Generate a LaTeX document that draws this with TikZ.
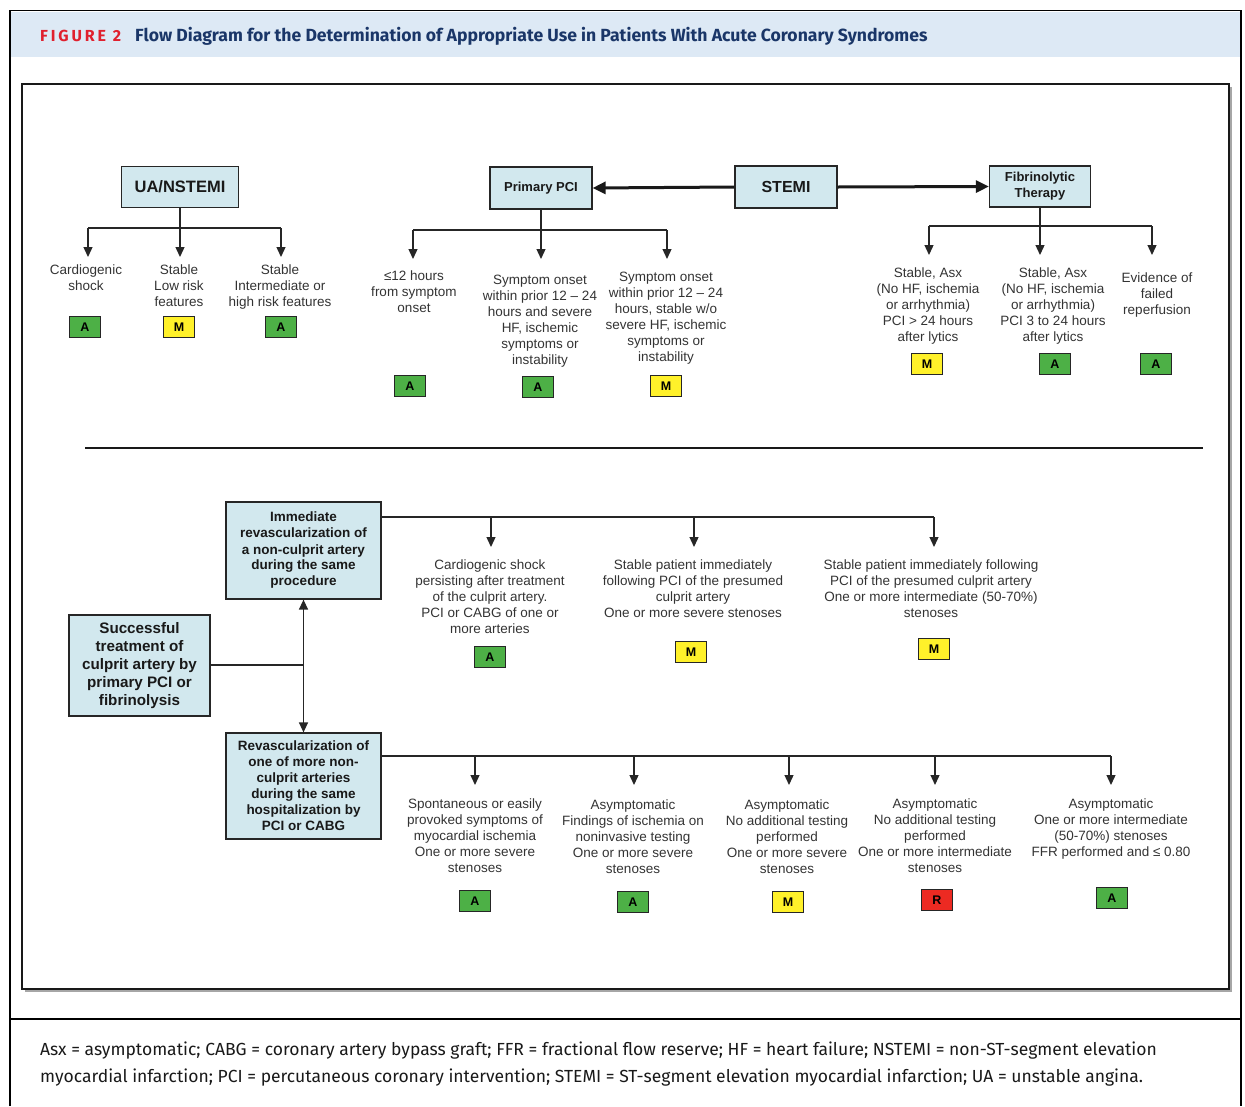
\documentclass[tikz,border=0pt]{standalone}
\usepackage{fontspec}
\setmainfont{Liberation Sans}
\newfontfamily\hdrfont{Fira Sans}
\usetikzlibrary{arrows.meta}
\definecolor{hdrblue}{HTML}{DDE9F5}
\definecolor{figred}{HTML}{E0202E}
\definecolor{titleblue}{HTML}{1A3668}
\definecolor{boxfill}{HTML}{D2E8EE}
\definecolor{rgreen}{HTML}{4DB046}
\definecolor{ryellow}{HTML}{FFF12A}
\definecolor{rred}{HTML}{EC2A22}
\definecolor{txt}{HTML}{333333}
\tikzset{
  cbox/.style={draw=black!85, fill=boxfill, line width=1.2pt, align=center, inner sep=0pt, text=black!90},
  desc/.style={align=center, inner sep=0pt, anchor=north, text=txt, font=\fontsize{13.5}{16}\selectfont},
  rating/.style={draw=black!85, line width=1.1pt, minimum width=31pt, minimum height=21pt, inner sep=0pt, font=\fontsize{12.5}{14}\selectfont\bfseries},
  ga/.style={rating, fill=rgreen},
  ym/.style={rating, fill=ryellow},
  rr/.style={rating, fill=rred},
  conn/.style={line width=1.3pt, draw=black!85},
  arr/.style={conn, -{Triangle[width=9pt,length=10pt]}},
  bigarr/.style={line width=3pt, draw=black!90, -{Triangle[width=12pt,length=13pt]}},
}
\begin{document}
\begin{tikzpicture}[x=1pt,y=-1pt]
\useasboundingbox (0,0) rectangle (1245,1106);
% outer frame and header
\fill[hdrblue] (10,12) rectangle (1241,57);
\draw[line width=1.5pt] (10,1106) -- (10,10.5) -- (1241,10.5) -- (1241,1106);
\draw[line width=2pt] (10,1019) -- (1241,1019);
\node[anchor=base west, inner sep=0pt, text=figred, font=\hdrfont\fontsize{16}{18}\selectfont\bfseries\addfontfeatures{LetterSpace=18}] (fig) at (40,41) {FIGURE 2};
\node[anchor=base west, inner sep=0pt, text=titleblue, font=\hdrfont\fontsize{17.6}{20}\selectfont\bfseries] (title) at (135,41) {Flow Diagram for the Determination of Appropriate Use in Patients With Acute Coronary Syndromes};
% inner frame
\draw[line width=2pt, black!35] (25,991) -- (1231,991) -- (1231,87);
\draw[line width=2pt, black!90] (22,84) rectangle (1229,989);
% legend
\node[anchor=north west, inner sep=0pt, align=left, text=black!90, font=\hdrfont\fontsize{17.5}{27}\selectfont] (legend) at (40,1042) {Asx = asymptomatic; CABG = coronary artery bypass graft; FFR = fractional flow reserve; HF = heart failure; NSTEMI = non-ST-segment elevation\\myocardial infarction; PCI = percutaneous coronary intervention; STEMI = ST-segment elevation myocardial infarction; UA = unstable angina.};

% ===== top section =====
\node[cbox, minimum width=117pt, minimum height=41pt, font=\fontsize{16.5}{17}\selectfont\bfseries] (ua) at (180,187) {UA/NSTEMI};
\node[cbox, minimum width=102pt, minimum height=42pt, font=\fontsize{13}{16}\selectfont\bfseries] (ppci) at (541,188) {Primary PCI};
\node[cbox, minimum width=102pt, minimum height=42pt, font=\fontsize{16}{17}\selectfont\bfseries] (stemi) at (786,187) {STEMI};
\node[cbox, minimum width=101pt, minimum height=41pt, font=\fontsize{13}{16}\selectfont\bfseries] (fib) at (1040,186.5) {Fibrinolytic\\Therapy};
\draw[bigarr] (stemi.west) -- (ppci.east);
\draw[bigarr] (stemi.east) -- (fib.west);

% UA branches
\coordinate (uab) at (180,228);
\coordinate (uab1) at (88,228);
\coordinate (uab3) at (281,228);
\coordinate (uat1) at (88,257);
\coordinate (uat2) at (180,257);
\coordinate (uat3) at (281,257);
\draw[conn] (ua.south) -- (uab);
\draw[conn] (uab1) -- (uab3);
\draw[arr] (uab1) -- (uat1);
\draw[arr] (uab) -- (uat2);
\draw[arr] (uab3) -- (uat3);
\node[desc] (u1) at (86,265) {Cardiogenic\\shock};
\node[desc] (u2) at (179,265) {Stable\\Low risk\\features};
\node[desc] (u3) at (280,265) {Stable\\Intermediate or\\high risk features};
\node[ga] (ru1) at (85,327) {A};
\node[ym] (ru2) at (179,327) {M};
\node[ga] (ru3) at (281,327) {A};

% PCI branches
\coordinate (pb) at (541,230);
\coordinate (pb1) at (413,230);
\coordinate (pb3) at (667,230);
\coordinate (pt1) at (413,259);
\coordinate (pt2) at (541,259);
\coordinate (pt3) at (667,259);
\draw[conn] (ppci.south) -- (pb);
\draw[conn] (pb1) -- (pb3);
\draw[arr] (pb1) -- (pt1);
\draw[arr] (pb) -- (pt2);
\draw[arr] (pb3) -- (pt3);
\node[desc] (p1) at (414,271) {≤12 hours\\from symptom\\onset};
\node[desc] (p2) at (540,275) {Symptom onset\\within prior 12 – 24\\hours and severe\\HF, ischemic\\symptoms or\\instability};
\node[desc] (p3) at (666,272) {Symptom onset\\within prior 12 – 24\\hours, stable w/o\\severe HF, ischemic\\symptoms or\\instability};
\node[ga] (rp1) at (410,386) {A};
\node[ga] (rp2) at (538,387) {A};
\node[ym] (rp3) at (666,386) {M};

% Fibrinolytic branches
\coordinate (fb) at (1040,226);
\coordinate (fb1) at (929,226);
\coordinate (fb3) at (1152,226);
\coordinate (ft1) at (929,255);
\coordinate (ft2) at (1040,255);
\coordinate (ft3) at (1152,255);
\draw[conn] (fib.south) -- (fb);
\draw[conn] (fb1) -- (fb3);
\draw[arr] (fb1) -- (ft1);
\draw[arr] (fb) -- (ft2);
\draw[arr] (fb3) -- (ft3);
\node[desc] (f1) at (928,268) {Stable, Asx\\(No HF, ischemia\\or arrhythmia)\\PCI > 24 hours\\after lytics};
\node[desc] (f2) at (1053,268) {Stable, Asx\\(No HF, ischemia\\or arrhythmia)\\PCI 3 to 24 hours\\after lytics};
\node[desc] (f3) at (1157,273) {Evidence of\\failed\\reperfusion};
\node[ym] (rf1) at (927,364) {M};
\node[ga] (rf2) at (1055,364) {A};
\node[ga] (rf3) at (1156,364) {A};

% separator
\coordinate (sepa) at (85,448);
\coordinate (sepb) at (1203,448);
\draw[line width=2.5pt, black!90] (sepa) -- (sepb);

% ===== bottom section =====
\node[cbox, minimum width=141pt, minimum height=101pt, font=\fontsize{15.2}{18}\selectfont\bfseries] (succ) at (139.5,665.5) {Successful\\treatment of\\culprit artery by\\primary PCI or\\fibrinolysis};
\node[cbox, minimum width=155pt, minimum height=97pt, font=\fontsize{13.5}{16}\selectfont\bfseries] (imm) at (303.5,550.5) {Immediate\\revascularization of\\a non-culprit artery\\during the same\\procedure};
\node[cbox, minimum width=155pt, minimum height=106pt, font=\fontsize{13.5}{16}\selectfont\bfseries] (rev) at (303.5,786) {Revascularization of\\one of more non-\\culprit arteries\\during the same\\hospitalization by\\PCI or CABG};
\coordinate (sj) at (303.5,665);
\draw[conn] (succ.east |- sj) -- (sj);
\draw[arr] (sj) -- (imm.south);
\draw[arr] (sj) -- (rev.north);

% Immediate branches
\coordinate (ib0) at (381,517);
\coordinate (ib1) at (491,517);
\coordinate (ib2) at (694,517);
\coordinate (ib3) at (934,517);
\coordinate (it1) at (491,547);
\coordinate (it2) at (694,547);
\coordinate (it3) at (934,547);
\draw[conn] (imm.east |- ib0) -- (ib3);
\draw[arr] (ib1) -- (it1);
\draw[arr] (ib2) -- (it2);
\draw[arr] (ib3) -- (it3);
\node[desc] (i1) at (490,560) {Cardiogenic shock\\persisting after treatment\\of the culprit artery.\\PCI or CABG of one or\\more arteries};
\node[desc] (i2) at (693,560) {Stable patient immediately\\following PCI of the presumed\\culprit artery\\One or more severe stenoses};
\node[desc] (i3) at (931,560) {Stable patient immediately following\\PCI of the presumed culprit artery\\One or more intermediate (50-70\%)\\stenoses};
\node[ga] (ri1) at (490,657) {A};
\node[ym] (ri2) at (691,652) {M};
\node[ym] (ri3) at (934,649) {M};

% Revascularization branches
\coordinate (rb0) at (381,756);
\coordinate (rb1) at (475,756);
\coordinate (rb2) at (634,756);
\coordinate (rb3) at (789,756);
\coordinate (rb4) at (935,756);
\coordinate (rb5) at (1111,756);
\coordinate (rt1) at (475,785);
\coordinate (rt2) at (634,785);
\coordinate (rt3) at (789,785);
\coordinate (rt4) at (935,785);
\coordinate (rt5) at (1111,785);
\draw[conn] (rev.east |- rb0) -- (rb5);
\draw[arr] (rb1) -- (rt1);
\draw[arr] (rb2) -- (rt2);
\draw[arr] (rb3) -- (rt3);
\draw[arr] (rb4) -- (rt4);
\draw[arr] (rb5) -- (rt5);
\node[desc] (v1) at (475,799) {Spontaneous or easily\\provoked symptoms of\\myocardial ischemia\\One or more severe\\stenoses};
\node[desc] (v2) at (633,800) {Asymptomatic\\Findings of ischemia on\\noninvasive testing\\One or more severe\\stenoses};
\node[desc] (v3) at (787,800) {Asymptomatic\\No additional testing\\performed\\One or more severe\\stenoses};
\node[desc] (v4) at (935,799) {Asymptomatic\\No additional testing\\performed\\One or more intermediate\\stenoses};
\node[desc] (v5) at (1111,799) {Asymptomatic\\One or more intermediate\\(50-70\%) stenoses\\FFR performed and ≤ 0.80};
\node[ga] (rv1) at (475,901) {A};
\node[ga] (rv2) at (633,902) {A};
\node[ym] (rv3) at (788,902) {M};
\node[rr] (rv4) at (937,900) {R};
\node[ga] (rv5) at (1112,898) {A};
\end{tikzpicture}
\end{document}
